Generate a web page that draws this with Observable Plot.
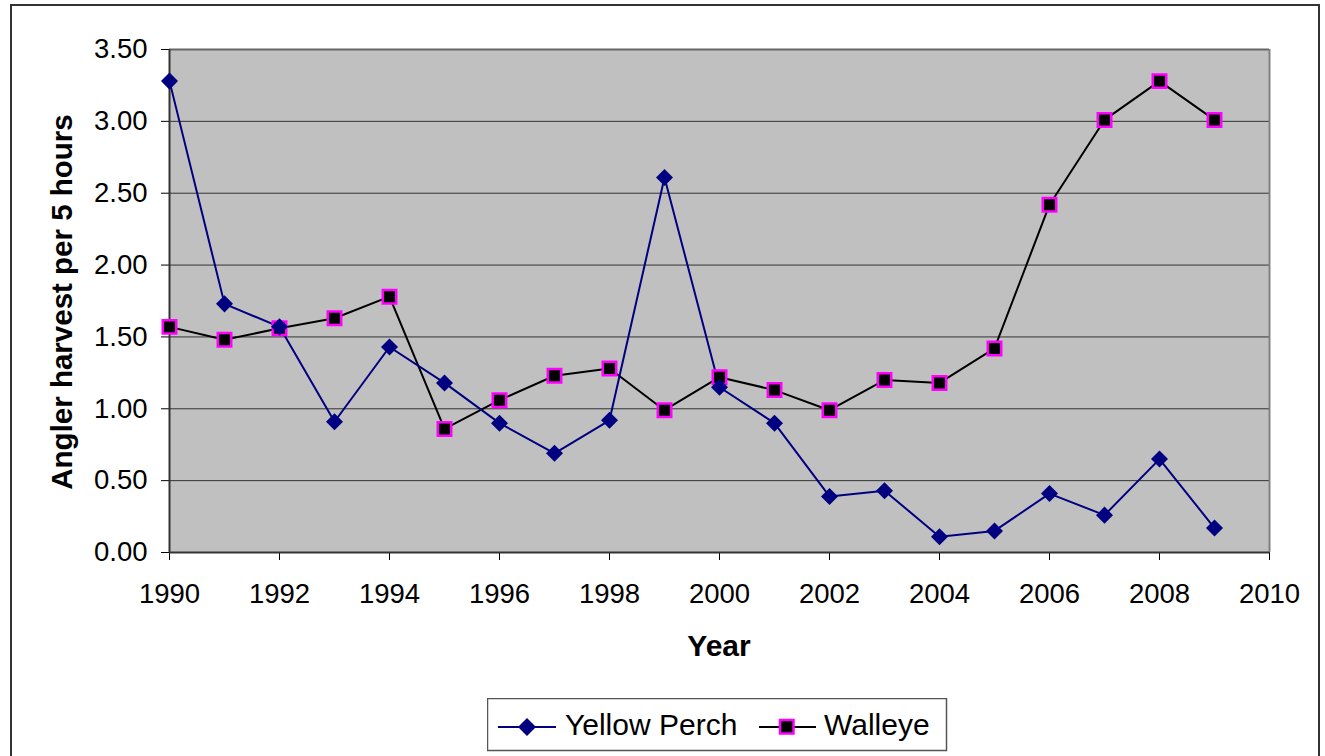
<!DOCTYPE html>
<html>
<head>
<meta charset="utf-8">
<script src="https://cdn.jsdelivr.net/npm/d3@7"></script>
<script src="https://cdn.jsdelivr.net/npm/@observablehq/plot@0.6"></script>
<style>
  html, body { margin: 0; padding: 0; background: #fff; width: 1325px; height: 756px; overflow: hidden; }
  body { position: relative; font-family: "Liberation Sans", Arial, sans-serif; }
  #border { position: absolute; left: 10px; top: 4px; width: 1310px; height: 800px; border: 2px solid #333; box-sizing: border-box; }
  #chart { position: absolute; left: 0; top: 0; }
  #ytitle { position: absolute; left: 62px; top: 302px; transform: translate(-50%, -50%) rotate(-90deg); white-space: nowrap; font-weight: bold; font-size: 29.5px; line-height: 1; color: #000; }
  #xtitle { position: absolute; left: 719px; top: 631px; transform: translateX(-50%); white-space: nowrap; font-weight: bold; font-size: 30px; line-height: 1; color: #000; }
  #legend { position: absolute; left: 487px; top: 698px; }
</style>
</head>
<body>
<div id="border"></div>
<div id="chart"></div>
<div id="ytitle">Angler harvest per 5 hours</div>
<div id="xtitle">Year</div>
<div id="legend"></div>
<script>
const years = [1990, 1991, 1992, 1993, 1994, 1995, 1996, 1997, 1998, 1999,
               2000, 2001, 2002, 2003, 2004, 2005, 2006, 2007, 2008, 2009];
const yellowPerch = [3.28, 1.73, 1.57, 0.91, 1.43, 1.18, 0.90, 0.69, 0.92, 2.61,
                     1.15, 0.90, 0.39, 0.43, 0.11, 0.15, 0.41, 0.26, 0.65, 0.17];
const walleye = [1.57, 1.48, 1.56, 1.63, 1.78, 0.86, 1.06, 1.23, 1.28, 0.99,
                 1.22, 1.13, 0.99, 1.20, 1.18, 1.42, 2.42, 3.01, 3.28, 3.01];
const xTicks = [1990, 1992, 1994, 1996, 1998, 2000, 2002, 2004, 2006, 2008, 2010];
const yTicks = [0, 0.5, 1.0, 1.5, 2.0, 2.5, 3.0, 3.5];
const seriesNames = ["Yellow Perch", "Walleye"];

const perchData = years.map((year, i) => ({year, value: yellowPerch[i]}));
const walleyeData = years.map((year, i) => ({year, value: walleye[i]}));

const diamond = {
  draw(context, size) {
    const h = Math.sqrt(size / 2);
    context.moveTo(0, -h);
    context.lineTo(h, 0);
    context.lineTo(0, h);
    context.lineTo(-h, 0);
    context.closePath();
  }
};

const gridValues = yTicks.filter(v => v > 0 && v < 3.5);

const chart = Plot.plot({
  width: 1325,
  height: 620,
  marginLeft: 169,
  marginRight: 56,
  marginTop: 49,
  marginBottom: 68,
  style: {fontFamily: "'Liberation Sans', Arial, sans-serif", fontSize: "27.5px", color: "#000", background: "transparent", overflow: "visible"},
  x: {domain: [1990, 2010], ticks: xTicks, tickFormat: d => String(d), tickSize: 8, tickPadding: 23, label: null},
  y: {domain: [0, 3.5], ticks: yTicks, tickFormat: d => d.toFixed(2), tickSize: 8, tickPadding: 14, label: null},
  marks: [
    Plot.frame({fill: "#C0C0C0", stroke: null}),
    Plot.ruleY(gridValues, {stroke: "#333", strokeWidth: 1}),
    Plot.ruleY([3.5], {stroke: "#666", strokeWidth: 2}),
    Plot.ruleX([2010], {stroke: "#808080", strokeWidth: 2}),
    Plot.ruleY([0], {stroke: "#333", strokeWidth: 2}),
    Plot.ruleX([1990], {stroke: "#333", strokeWidth: 2}),
    Plot.line(walleyeData, {x: "year", y: "value", stroke: "#000", strokeWidth: 2}),
    Plot.line(perchData, {x: "year", y: "value", stroke: "#000080", strokeWidth: 2}),
    Plot.dot(walleyeData, {x: "year", y: "value", symbol: "square", r: 7.6, fill: "#000", stroke: "#FF00FF", strokeWidth: 2.5}),
    Plot.dot(perchData, {x: "year", y: "value", symbol: diamond, r: 6.8, fill: "#000080", stroke: null})
  ]
});
document.getElementById("chart").appendChild(chart);

// Legend
const legendSvg = `
<svg width="461" height="54" xmlns="http://www.w3.org/2000/svg" style="font-family:'Liberation Sans', Arial, sans-serif">
  <rect x="0.5" y="0.5" width="459" height="52" fill="#fff" stroke="#555" stroke-width="1.5"/>
  <line x1="11" y1="29" x2="69" y2="29" stroke="#000080" stroke-width="2"/>
  <path d="M40,20 L49,29 L40,38 L31,29 Z" fill="#000080"/>
  <text x="78" y="37" font-size="30" fill="#000">${seriesNames[0]}</text>
  <line x1="272" y1="29" x2="329" y2="29" stroke="#000" stroke-width="2"/>
  <rect x="293" y="22" width="13.5" height="13.5" fill="#000" stroke="#FF00FF" stroke-width="2.5"/>
  <text x="337" y="37" font-size="30" fill="#000">${seriesNames[1]}</text>
</svg>`;
document.getElementById("legend").innerHTML = legendSvg;
</script>
</body>
</html>
